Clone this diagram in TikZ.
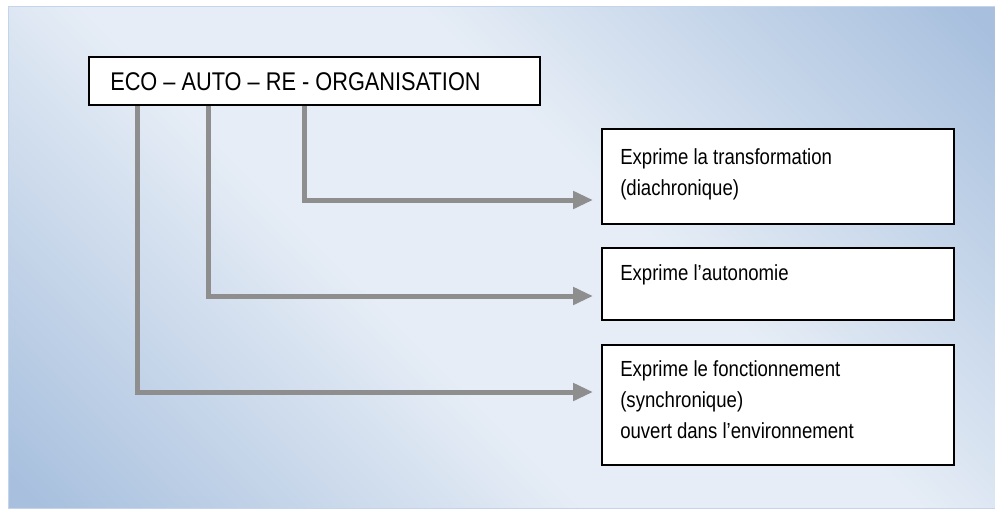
\documentclass[tikz,border=0pt]{standalone}
\usepackage{fontspec}
\setmainfont{Liberation Sans}[FakeStretch=0.85]
\usetikzlibrary{arrows.meta}
\definecolor{dk}{HTML}{A8C0DE}
\definecolor{lt}{HTML}{E6EDF6}
\definecolor{conn}{HTML}{8E8E8E}
\definecolor{pborder}{HTML}{C4D4EA}
\pgfdeclareverticalshading{bgshade}{100bp}{color(0bp)=(dk); color(16bp)=(dk); color(42bp)=(lt); color(58bp)=(lt); color(84bp)=(dk); color(100bp)=(dk)}
\begin{document}
\begin{tikzpicture}[x=0.75pt,y=-0.75pt,
  box/.style={draw=black, fill=white, line width=1.5pt, anchor=north west, inner sep=0pt},
  link/.style={draw=conn, line width=3.75pt, -{Triangle[length=15pt,width=12.75pt]}, shorten >=6pt},
  bigtxt/.style={anchor=base west, inner sep=0pt, font=\fontsize{19.2}{22}\selectfont},
  txt/.style={anchor=base west, inner sep=0pt, align=left, font=\fontsize{16.4}{22.9}\selectfont}]
\useasboundingbox (0,0) rectangle (995,511);
\fill[white] (0,0) rectangle (995,511);
\shade[shading=bgshade, shading angle=-45] (8,6) rectangle (995,508);
\draw[pborder, line width=0.75pt] (8,6) rectangle (995,508);
% boxes
\node[box, minimum width=338.25pt, minimum height=36pt] (top) at (88,56) {};
\node[box, minimum width=264pt, minimum height=71.25pt] (b1) at (601,128) {};
\node[box, minimum width=264pt, minimum height=54pt] (b2) at (601,247) {};
\node[box, minimum width=264pt, minimum height=90pt] (b3) at (601,344) {};
% corners
\coordinate (c1) at (137,392);
\coordinate (c2) at (208,296);
\coordinate (c3) at (304,200);
\draw[link] (top.south -| c1) -- (c1) -- (b3.west |- c1);
\draw[link] (top.south -| c2) -- (c2) -- (b2.west |- c2);
\draw[link] (top.south -| c3) -- (c3) -- (b1.west |- c3);
% texts (base anchor = last line)
\node[bigtxt] (tt) at (110,90) {ECO – AUTO – RE - ORGANISATION};
\node[txt] (t1) at (620,195.5) {Exprime la transformation\\(diachronique)};
\node[txt] (t2) at (620,280) {Exprime l’autonomie};
\node[txt] (t3) at (620,438) {Exprime le fonctionnement\\(synchronique)\\ouvert dans l’environnement};
\end{tikzpicture}
\end{document}
